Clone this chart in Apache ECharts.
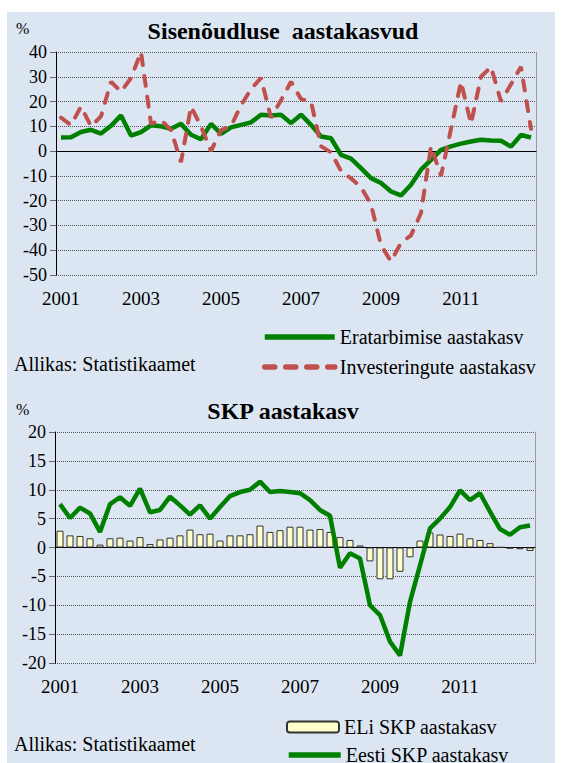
<!DOCTYPE html>
<html>
<head>
<meta charset="utf-8">
<script src="https://cdn.jsdelivr.net/npm/echarts@6/dist/echarts.min.js"></script>
<style>
html, body { margin: 0; padding: 0; background: #ffffff; }
#chart { width: 561px; height: 763px; }
</style>
</head>
<body>
<div id="chart"></div>
<script>
// aastad ja kvartalid (x-telg)
const years = [2001, 2002, 2003, 2004, 2005, 2006, 2007, 2008, 2009, 2010, 2011, 2012];
const quarterNames = ["I", "II", "III", "IV"];
const quarters = [];
years.forEach(y => quarterNames.forEach(q => quarters.push(y + " " + q)));

// Sisenõudluse aastakasvud, %
const eratarbimine = [
    5.5, 5.6, 7.7, 8.6, 7.1, 10.2, 14.4, 6.3, 7.7, 10.4, 10.0, 9.0,
    11.0, 6.6, 4.8, 11.0, 7.0, 9.6, 10.6, 11.6, 14.7, 14.4, 14.7, 11.3,
    14.7, 10.6, 5.9, 5.2, -1.5, -3.0, -6.9, -10.9, -12.9, -16.3, -17.9, -13.6,
    -7.5, -3.5, 0.5, 1.9, 3.0, 3.9, 4.6, 4.3, 4.2, 1.8, 6.5, 5.5
];
const investeeringud = [
    13.5, 10.5, 18.0, 10.0, 14.0, 28.0, 24.0, 29.5, 40.0, 11.0, 12.5, 8.5,
    -4.5, 18.0, 10.0, 0.0, 8.5, 10.0, 18.5, 25.0, 29.5, 13.5, 20.5, 28.0,
    21.0, 20.0, 2.0, -0.5, -8.0, -11.0, -14.5, -21.5, -38.0, -44.5, -37.0, -34.0,
    -25.0, 2.0, -10.0, 9.0, 28.0, 11.0, 30.0, 34.0, 20.0, 27.0, 34.0, 9.0
];

// SKP aastakasv, %
const eliSkp = [
    2.9, 2.1, 2.0, 1.6, 0.5, 1.6, 1.7, 1.2, 1.8, 0.6, 1.4, 1.7,
    2.1, 3.1, 2.3, 2.4, 1.2, 2.1, 2.1, 2.3, 3.8, 2.7, 3.0, 3.6,
    3.6, 3.1, 3.2, 2.7, 1.8, 1.3, 0.35, -2.4, -5.5, -5.5, -4.2, -1.7,
    1.2, 2.6, 2.25, 2.0, 2.4, 1.6, 1.3, 0.75, 0.05, -0.2, -0.3, -0.6
];
const eestiSkp = [
    7.5, 5.1, 6.9, 5.9, 2.7, 7.5, 8.7, 7.2, 10.2, 6.1, 6.5, 8.8,
    7.3, 5.7, 7.3, 5.0, 7.0, 8.9, 9.6, 10.0, 11.4, 9.6, 9.8, 9.6,
    9.4, 8.2, 6.5, 5.5, -3.5, -1.0, -1.9, -10.0, -11.7, -16.3, -18.7, -9.4,
    -3.1, 3.3, 5.0, 7.0, 9.9, 8.2, 9.4, 6.2, 3.2, 2.2, 3.5, 3.8
];

const FONT = '"Liberation Serif", "Times New Roman", serif';

function xAxis (gridIndex, tickInterval) {
    return {
        type: "category",
        gridIndex,
        data: quarters,
        boundaryGap: true,
        axisLine: { lineStyle: { color: "#000000", width: 1 } },
        axisTick: { interval: tickInterval, length: 6, lineStyle: { color: "#000000" } },
        axisLabel: {
            interval: 7,
            margin: 14,
            color: "#000000",
            fontFamily: FONT,
            fontSize: 19,
            formatter: v => v.slice(0, 4)
        },
        splitLine: { show: false }
    };
}

function yAxis (gridIndex, min, max, interval) {
    return {
        type: "value",
        gridIndex,
        min,
        max,
        interval,
        axisLine: { show: true, lineStyle: { color: "#000000", width: 1 } },
        axisTick: { show: true, length: 6, lineStyle: { color: "#666666" } },
        axisLabel: { margin: 9, color: "#000000", fontFamily: FONT, fontSize: 18 },
        splitLine: { show: true, lineStyle: { type: "dotted", color: "#555555", width: 1 } }
    };
}

// parem serv (halli joonega)
function rightAxis (gridIndex, min, max, interval) {
    return {
        type: "value",
        gridIndex,
        position: "right",
        min,
        max,
        interval,
        axisLine: { show: true, lineStyle: { color: "#999999" } },
        axisTick: { show: false },
        axisLabel: { show: false },
        splitLine: { show: false }
    };
}

function text (x, y, str, size, bold) {
    return {
        type: "text",
        x,
        y,
        silent: true,
        style: {
            text: str,
            fill: "#000000",
            font: (bold ? "bold " : "") + size + "px " + FONT,
            textAlign: bold ? "center" : "left",
            textVerticalAlign: "middle"
        }
    };
}

// legendi stiil: joone keskel ringi ei näidata
const noSymbol = { opacity: 0 };
const legendText = { color: "#000000", fontFamily: FONT, fontSize: 20, lineHeight: 18 };

function legend (items, left, top, itemWidth, itemHeight) {
    return {
        data: items,
        orient: "vertical",
        left,
        top,
        padding: 0,
        itemWidth,
        itemHeight,
        itemGap: 10,
        selectedMode: false,
        lineStyle: { width: 5.5 },
        textStyle: legendText
    };
}

const chart = echarts.init(document.getElementById("chart"), null, { renderer: "svg" });

const option = {
    animation: false,
    grid: [
        { left: 56, top: 52, width: 480, height: 223 },
        { left: 55, top: 432, width: 480, height: 231 }
    ],
    xAxis: [xAxis(0, 1), xAxis(1, 3)],
    yAxis: [
        yAxis(0, -50, 40, 10),
        rightAxis(0, -50, 40, 10),
        yAxis(1, -20, 20, 5),
        rightAxis(1, -20, 20, 5)
    ],
    legend: [
        legend([
            { name: "Eratarbimise aastakasv", itemStyle: noSymbol },
            { name: "Investeringute aastakasv", itemStyle: noSymbol }
        ], 262, 327, 70, 14),
        legend([{ name: "ELi SKP aastakasv" }], 286, 717, 52, 11),
        legend([{ name: "Eesti SKP aastakasv", itemStyle: noSymbol }], 286, 745, 52, 11)
    ],
    graphic: [
        { type: "rect", z: -10, silent: true, shape: { x: 7, y: 12, width: 548, height: 751 }, style: { fill: "#dce6f2" } },
        text(16, 28, "%", 16, false),
        text(283, 31, "Sisenõudluse  aastakasvud", 24, true),
        text(14, 364, "Allikas: Statistikaamet", 20, false),
        text(16, 409, "%", 16, false),
        text(283, 411, "SKP aastakasv", 24, true),
        text(14, 744, "Allikas: Statistikaamet", 20, false)
    ],
    series: [
        {
            name: "Eratarbimise aastakasv",
            type: "line",
            xAxisIndex: 0,
            yAxisIndex: 0,
            data: eratarbimine,
            symbol: "none",
            itemStyle: { color: "#008000" },
            lineStyle: { color: "#008000", width: 4.5 },
            silent: true
        },
        {
            name: "Investeringute aastakasv",
            type: "line",
            xAxisIndex: 0,
            yAxisIndex: 0,
            data: investeeringud,
            symbol: "none",
            itemStyle: { color: "#c0504d" },
            lineStyle: { color: "#c0504d", width: 4, type: [10, 11], cap: "round" },
            silent: true
        },
        {
            name: "ELi SKP aastakasv",
            type: "bar",
            xAxisIndex: 1,
            yAxisIndex: 2,
            data: eliSkp,
            barWidth: 7,
            itemStyle: { color: "#ffffcc", borderColor: "#333333", borderWidth: 1 },
            silent: true
        },
        {
            name: "Eesti SKP aastakasv",
            type: "line",
            xAxisIndex: 1,
            yAxisIndex: 2,
            data: eestiSkp,
            symbol: "none",
            itemStyle: { color: "#008000" },
            lineStyle: { color: "#008000", width: 4.5 },
            silent: true
        }
    ]
};
chart.setOption(option);
</script>
</body>
</html>
